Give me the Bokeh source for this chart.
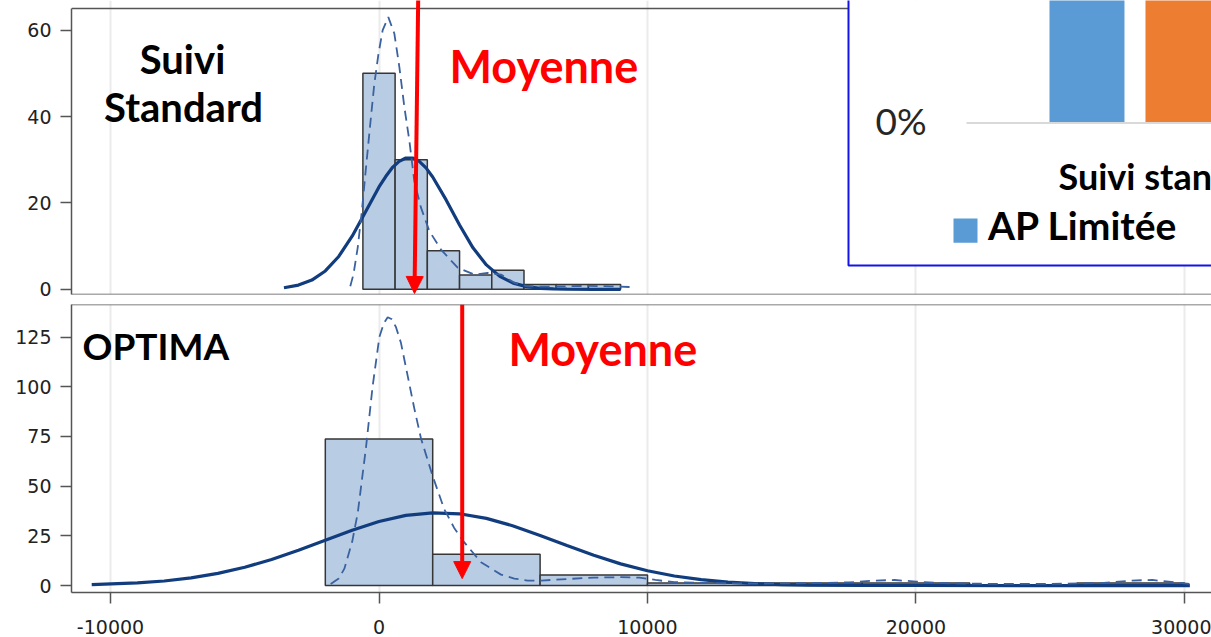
from bokeh.plotting import figure
from bokeh.layouts import column
from bokeh.models import (Range1d, Span, BoxAnnotation, Label, Arrow, NormalHead,
                          FixedTicker, Grid)
from bokeh.embed import file_html
from bokeh.resources import INLINE

# ---------------- data ----------------
x_ticks = [-10000, 0, 10000, 20000, 30000]
x_tick_labels = ["-10000", "0", "10000", "20000", "30000"]
top_y_ticks = [0, 20, 40, 60]
bottom_y_ticks = [0, 25, 50, 75, 100, 125]

# Suivi Standard histogram (percent)
top_bin_edges = [-600, 600, 1800, 3000, 4200, 5400, 6600, 7800, 9000]
top_percent = [50, 30, 8.9, 3.3, 4.4, 1.1, 1.1, 1.1]

# OPTIMA histogram (percent)
bottom_bin_edges = [-2000, 2000, 6000, 10000, 14000, 18000, 22000, 26000, 30000]
bottom_percent = [73.7, 15.8, 5.3, 1.3, 1.3, 1.3, 0, 1.3]

# normal curves (solid)
top_normal_x = [-3540, -3000, -2500, -2000, -1500, -1000, -500, 0, 250, 500, 750, 1000,
                1250, 1500, 1750, 2000, 2500, 3000, 3500, 4000, 4500, 5000, 5500, 6000,
                6500, 7000, 8000, 9000]
top_normal_y = [0.37, 0.98, 2.14, 4.25, 7.6, 12.3, 17.95, 23.7, 26.1, 28.2, 29.6, 30.4,
                30.4, 29.6, 28.1, 26.0, 20.7, 14.9, 9.6, 5.65, 3.0, 1.43, 0.62, 0.24,
                0.09, 0.03, 0.0, 0.0]
bottom_normal_x = [-10700, -9000, -8000, -7000, -6000, -5000, -4000, -3000, -2000, -1000,
                   0, 1000, 2000, 3000, 4000, 5000, 6000, 7000, 8000, 9000, 10000, 11000,
                   12000, 13000, 14000, 15000, 16000, 18000, 20000, 24000, 30200]
bottom_normal_y = [0.44, 1.3, 2.3, 3.85, 6.1, 9.2, 13.1, 17.8, 22.8, 27.8,
                   32.2, 35.3, 36.6, 36.1, 33.8, 30.0, 25.2, 20.1, 15.2, 10.9, 7.45, 4.81,
                   2.95, 1.71, 0.94, 0.49, 0.24, 0.05, 0.01, 0.0, 0.0]

# kernel density curves (dashed)
top_kernel_x = [-1070, -950, -794, -640, -484, -330, -174, -20, 137, 347, 571, 757, 944,
                1130, 1316, 1564, 1874, 2309, 2930, 3550, 4048, 4544, 5040, 5538, 6200,
                7000, 7800, 8600, 9500]
top_kernel_y = [0.7, 3.5, 9.6, 18, 28.2, 38, 47.6, 54.5, 60, 63, 59.2, 51.5, 42.2,
                34.4, 25, 18.9, 13.5, 9.2, 5.0, 3.4, 3.8, 3.4, 1.5, 0.7, 0.6,
                0.7, 0.8, 0.7, 0.5]
bottom_kernel_x = [-1800, -1500, -1290, -1000, -790, -480, -240, 13, 180, 324, 480, 633,
                   819, 1000, 1316, 1564, 2000, 2433, 2800, 3178, 3799, 4544, 5040, 5538,
                   6034, 7028, 8000, 9000, 9700, 10300, 11000, 12500, 14000, 16000, 17500,
                   18500, 19200, 20000, 21000, 23000, 25000, 27000, 28000, 28800, 29500, 30200]
bottom_kernel_y = [0.8, 3.5, 8.5, 22, 36.7, 70, 100, 125, 132, 135, 134, 130,
                   122, 110, 89, 74, 55, 38.3, 29, 21.7, 11.7, 5.5, 3.5, 2.5,
                   2.5, 3.3, 4.0, 4.2, 4.0, 2.8, 1.7, 1.2, 1.0, 1.2, 1.6,
                   2.5, 2.8, 2.0, 1.2, 0.8, 0.8, 1.3, 2.5, 2.8, 1.8, 0.8]

top_mean = 1322
bottom_mean = 3099

# ---------------- styling ----------------
BAR_FILL = "#B8CCE4"
BAR_LINE = "#363636"
NORMAL_COLOR = "#113D7E"
KERNEL_COLOR = "#3A62A0"
FRAME = "#555555"
X_RANGE = (-11453, 31006)
W = 1211


def make_panel(height, yr, frame_top, yticks, border_top, border_bottom, with_x_axis):
    p = figure(width=W, height=height,
               x_range=Range1d(*X_RANGE), y_range=Range1d(*yr),
               output_backend="svg", toolbar_location=None,
               x_axis_location="below" if with_x_axis else None,
               min_border_left=71, min_border_right=0,
               min_border_top=border_top, min_border_bottom=border_bottom)
    p.outline_line_color = None
    p.background_fill_color = "white"
    p.border_fill_color = "white"
    p.grid.visible = False
    g = Grid(dimension=0, ticker=FixedTicker(ticks=x_ticks),
             grid_line_color="#ebebeb", grid_line_width=2)
    p.add_layout(g, "center")

    p.yaxis.ticker = FixedTicker(ticks=yticks)
    p.yaxis.bounds = (yr[0], frame_top)
    p.yaxis.minor_tick_line_color = None
    p.yaxis.axis_line_color = FRAME
    p.yaxis.axis_line_width = 1.5
    p.yaxis.major_tick_line_color = FRAME
    p.yaxis.major_tick_line_width = 1.5
    p.yaxis.major_tick_out = 11
    p.yaxis.major_tick_in = 0
    p.yaxis.major_label_standoff = 9
    p.yaxis.major_label_text_font = "DejaVu Sans"
    p.yaxis.major_label_text_font_size = "19px"
    p.yaxis.major_label_text_color = "#222222"
    if with_x_axis:
        p.xaxis.ticker = FixedTicker(ticks=x_ticks)
        p.xaxis.major_label_overrides = dict(zip(x_ticks, x_tick_labels))
        p.xaxis.minor_tick_line_color = None
        p.xaxis.axis_line_color = FRAME
        p.xaxis.axis_line_width = 1.5
        p.xaxis.major_tick_line_color = FRAME
        p.xaxis.major_tick_line_width = 1.5
        p.xaxis.major_tick_out = 11
        p.xaxis.major_tick_in = 0
        p.xaxis.major_label_standoff = 16
        p.xaxis.major_label_text_font = "DejaVu Sans"
        p.xaxis.major_label_text_font_size = "19px"
        p.xaxis.major_label_text_color = "#222222"
    else:
        p.add_layout(Span(location=yr[0], dimension="width", line_color=FRAME, line_width=1.5))
    p.add_layout(Span(location=frame_top, dimension="width", line_color=FRAME, line_width=1.5))
    return p


def draw_hist(p, edges, pct, nx, ny, kx, ky):
    p.quad(left=edges[:-1], right=edges[1:], bottom=0, top=pct,
           fill_color=BAR_FILL, line_color=BAR_LINE, line_width=1.5)
    p.line(nx, ny, line_color=NORMAL_COLOR, line_width=3.2)
    p.line(kx, ky, line_color=KERNEL_COLOR, line_width=1.8, line_dash="10 6")


def text_label(p, x, y, text, size, color="black", align="left", weight="bold"):
    p.add_layout(Label(x=x, y=y, text=text, text_font="Lato", text_font_style=weight,
                       text_font_size=size, text_color=color, text_align=align,
                       text_baseline="alphabetic"))


# ---------------- top panel : Suivi Standard ----------------
# frame runs to the very top of the picture; the drawn border sits at 65
top = make_panel(300, (-1.2, 66.85), 65.0, top_y_ticks, 0, 6, False)
draw_hist(top, top_bin_edges, top_percent, top_normal_x, top_normal_y, top_kernel_x, top_kernel_y)
text_label(top, -7318, 53.4, "Suivi", "40px", align="center")
text_label(top, -7281, 42.1, "Standard", "40px", align="center")
text_label(top, 2626, 51.6, "Moyenne", "45px", color="#FF0000")
top.add_layout(Arrow(end=NormalHead(size=17, fill_color="#FF0000", line_color="#FF0000"),
                     x_start=1460, y_start=67.5, x_end=top_mean, y_end=-0.97,
                     line_color="#FF0000", line_width=4))

# inset (pasted Excel chart fragment)
top.add_layout(BoxAnnotation(left=17486, right=45000, bottom=5.5, top=90,
                             fill_color="white", fill_alpha=1, line_color="#1414E6",
                             line_alpha=1, line_width=2))
top.add_layout(BoxAnnotation(left=21881, right=45000, bottom=38.26, top=38.73,
                             fill_color="#D9D9D9", fill_alpha=1, line_color=None))
top.add_layout(BoxAnnotation(left=24972, right=27765, bottom=38.73, top=90,
                             fill_color="#5B9BD5", fill_alpha=1, line_color=None))
top.add_layout(BoxAnnotation(left=28547, right=45000, bottom=38.73, top=90,
                             fill_color="#ED7D31", fill_alpha=1, line_color=None))
top.add_layout(BoxAnnotation(left=21397, right=22291, bottom=10.8, top=16.4,
                             fill_color="#5B9BD5", fill_alpha=1, line_color=None))
text_label(top, 18492, 39.0, "0%", "37px", color="#262626", weight="normal")
text_label(top, 25307, 26.3, "Suivi stan", "36px")
text_label(top, 22680, 14.9, "AP Limitée", "39px")

# ---------------- bottom panel : OPTIMA ----------------
bottom = make_panel(337, (-3.5, 141.4), 141.4, bottom_y_ticks, 4, 45, True)
draw_hist(bottom, bottom_bin_edges, bottom_percent, bottom_normal_x, bottom_normal_y,
          bottom_kernel_x, bottom_kernel_y)
text_label(bottom, -11043, 120.7, "OPTIMA", "37px")
text_label(bottom, 4823, 118.8, "Moyenne", "45px", color="#FF0000")
bottom.add_layout(Arrow(end=NormalHead(size=17, fill_color="#FF0000", line_color="#FF0000"),
                        x_start=bottom_mean, y_start=141.4, x_end=bottom_mean, y_end=3.5,
                        line_color="#FF0000", line_width=4))

layout = column(top, bottom, spacing=0)
open("out.html", "w").write(file_html(layout, INLINE))
